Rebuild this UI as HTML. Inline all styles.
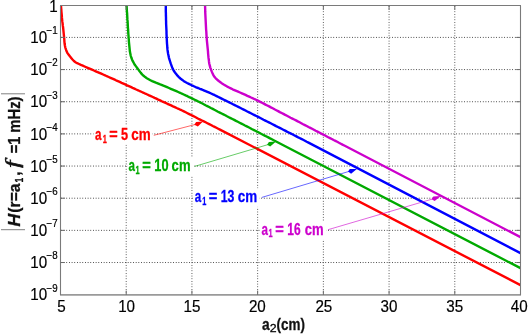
<!DOCTYPE html>
<html><head><meta charset="utf-8"><title>plot</title>
<style>
html,body{margin:0;padding:0;background:#fff;}
svg{display:block;will-change:transform;}
text{font-family:"Liberation Sans",sans-serif;}
.t{font-size:16.7px;fill:#000;}
.e{font-size:10.3px;fill:#000;}
.b{font-weight:bold;}
</style></head><body>
<svg width="529" height="335" viewBox="0 0 529 335">
<rect width="529" height="335" fill="#fff"/>
<g fill="none" stroke-width="1" stroke-dasharray="0.8 1.87">
<line x1="61.0" x2="520.5" y1="37.41" y2="37.41" stroke="#2a2a2a"/>
<line x1="61.0" x2="520.5" y1="69.57" y2="69.57" stroke="#2a2a2a"/>
<line x1="61.0" x2="520.5" y1="101.73" y2="101.73" stroke="#2a2a2a"/>
<line x1="61.0" x2="520.5" y1="133.89" y2="133.89" stroke="#2a2a2a"/>
<line x1="61.0" x2="520.5" y1="166.05" y2="166.05" stroke="#2a2a2a"/>
<line x1="61.0" x2="520.5" y1="198.21" y2="198.21" stroke="#2a2a2a"/>
<line x1="61.0" x2="520.5" y1="230.37" y2="230.37" stroke="#2a2a2a"/>
<line x1="61.0" x2="520.5" y1="262.53" y2="262.53" stroke="#2a2a2a"/>
<line y1="6.0" y2="294.69" x1="126.21" x2="126.21" stroke="#3a3a3a"/>
<line y1="6.0" y2="294.69" x1="191.93" x2="191.93" stroke="#3a3a3a"/>
<line y1="6.0" y2="294.69" x1="257.64" x2="257.64" stroke="#3a3a3a"/>
<line y1="6.0" y2="294.69" x1="323.36" x2="323.36" stroke="#3a3a3a"/>
<line y1="6.0" y2="294.69" x1="389.07" x2="389.07" stroke="#3a3a3a"/>
<line y1="6.0" y2="294.69" x1="454.79" x2="454.79" stroke="#3a3a3a"/>
</g>
<defs><clipPath id="ax"><rect x="60.5" y="5.0" width="460.0" height="289.9"/></clipPath></defs>
<g fill="none" stroke-width="2.4" stroke-linejoin="round" stroke-linecap="butt" clip-path="url(#ax)">
<path d="M61.0,5.3 L61.1,7.3 L61.3,9.3 L61.4,11.3 L61.6,13.4 L61.8,15.4 L61.9,17.4 L62.1,19.4 L62.3,21.4 L62.6,23.4 L62.8,25.4 L63.1,27.4 L63.3,29.4 L63.5,31.4 L63.7,33.4 L63.9,35.4 L64.1,37.4 L64.3,39.5 L64.4,41.5 L64.6,43.5 L64.9,45.5 L65.3,47.5 L65.9,49.4 L66.6,51.3 L67.5,53.1 L68.7,54.7 L69.9,56.3 L71.2,57.9 L72.5,59.5 L73.9,61.0 L75.5,62.2 L77.2,63.2 L79.0,64.0 L80.9,64.9 L82.8,65.7 L84.6,66.5 L86.5,67.3 L88.3,68.1 L90.2,68.9 L92.0,69.7 L93.9,70.5 L95.7,71.3 L97.6,72.1 L99.4,72.9 L101.3,73.7 L103.1,74.5 L105.0,75.3 L106.8,76.2 L108.7,77.0 L110.5,77.8 L112.4,78.6 L114.2,79.4 L116.0,80.3 L117.9,81.1 L119.7,81.9 L121.6,82.8 L123.4,83.6 L125.2,84.4 L127.1,85.3 L128.9,86.1 L130.7,86.9 L132.6,87.8 L134.4,88.6 L136.2,89.5 L138.1,90.3 L139.9,91.2 L141.8,92.0 L143.6,92.8 L145.4,93.7 L147.3,94.5 L149.1,95.4 L150.9,96.2 L152.8,97.0 L154.6,97.9 L156.4,98.7 L158.3,99.6 L160.1,100.4 L161.9,101.3 L163.8,102.1 L165.6,102.9 L167.4,103.8 L169.3,104.6 L171.1,105.4 L173.0,106.3 L174.8,107.1 L176.6,108.0 L178.5,108.8 L180.3,109.7 L182.1,110.5 L183.9,111.4 L185.7,112.3 L187.5,113.2 L189.3,114.1 L191.1,115.0 L192.9,115.9 L194.7,116.8 L196.5,117.7 L198.3,118.7 L200.1,119.6 L201.9,120.5 L203.8,121.4 L205.6,122.3 L207.4,123.2 L209.2,124.1 L211.0,125.0 L212.8,126.0 L214.6,126.9 L216.4,127.8 L218.2,128.7 L220.0,129.6 L520.5,285.1" stroke="#ff0000"/>
<path d="M126.6,5.3 L126.7,7.3 L126.8,9.3 L126.9,11.3 L127.1,13.4 L127.2,15.4 L127.3,17.4 L127.4,19.4 L127.6,21.4 L127.7,23.4 L127.8,25.4 L127.9,27.5 L128.1,29.5 L128.2,31.5 L128.3,33.5 L128.5,35.5 L128.6,37.5 L128.8,39.5 L128.9,41.6 L129.1,43.6 L129.3,45.6 L129.5,47.6 L129.7,49.6 L129.9,51.6 L130.3,53.6 L130.7,55.6 L131.3,57.5 L132.0,59.4 L132.8,61.2 L133.8,63.0 L134.8,64.8 L136.0,66.4 L137.2,68.0 L138.4,69.6 L139.6,71.3 L140.8,72.9 L142.1,74.4 L143.6,75.8 L145.2,77.1 L146.8,78.2 L148.6,79.2 L150.4,80.2 L152.2,81.1 L154.0,81.9 L155.9,82.7 L157.7,83.4 L159.6,84.2 L161.5,84.9 L163.4,85.7 L165.2,86.4 L167.1,87.2 L169.0,88.0 L170.8,88.8 L172.7,89.6 L174.5,90.4 L176.4,91.2 L178.2,92.0 L180.1,92.8 L181.9,93.7 L183.7,94.5 L185.6,95.4 L187.4,96.2 L189.2,97.1 L191.0,97.9 L192.9,98.8 L194.7,99.7 L196.5,100.6 L198.3,101.5 L200.1,102.4 L201.9,103.3 L203.7,104.2 L205.5,105.2 L207.3,106.1 L209.1,107.0 L210.9,108.0 L212.7,108.9 L214.4,109.8 L216.2,110.7 L218.0,111.7 L219.8,112.6 L221.6,113.5 L223.4,114.4 L225.2,115.3 L227.0,116.3 L228.8,117.2 L230.6,118.1 L232.4,119.0 L234.2,119.9 L236.0,120.9 L237.8,121.8 L239.6,122.7 L241.4,123.6 L243.2,124.5 L245.0,125.5 L246.8,126.4 L248.6,127.3 L250.4,128.2 L252.2,129.2 L254.0,130.1 L255.8,131.0 L257.5,131.9 L259.3,132.8 L261.1,133.8 L262.9,134.7 L264.7,135.6 L266.5,136.5 L268.3,137.4 L270.1,138.4 L271.9,139.3 L273.7,140.2 L520.5,268.2" stroke="#00aa00"/>
<path d="M165.8,5.3 L165.8,7.3 L165.8,9.3 L165.8,11.4 L165.9,13.4 L165.9,15.4 L166.0,17.4 L166.0,19.4 L166.1,21.5 L166.1,23.5 L166.2,25.5 L166.3,27.5 L166.4,29.5 L166.5,31.5 L166.5,33.5 L166.6,35.6 L166.7,37.6 L166.8,39.6 L166.9,41.6 L167.0,43.6 L167.2,45.6 L167.3,47.7 L167.5,49.7 L167.8,51.7 L168.1,53.7 L168.5,55.6 L168.9,57.6 L169.5,59.6 L170.1,61.5 L170.7,63.4 L171.4,65.3 L172.1,67.2 L172.9,69.1 L173.8,70.8 L175.0,72.5 L176.2,74.1 L177.5,75.7 L178.9,77.1 L180.4,78.5 L182.0,79.7 L183.6,80.9 L185.3,82.0 L187.1,83.0 L188.9,83.9 L190.7,84.8 L192.5,85.7 L194.4,86.5 L196.2,87.3 L198.1,88.0 L200.0,88.8 L201.9,89.5 L203.7,90.3 L205.6,91.1 L207.4,91.9 L209.3,92.7 L211.1,93.5 L213.0,94.4 L214.8,95.2 L216.6,96.1 L218.4,97.0 L220.2,97.9 L222.1,98.8 L223.9,99.7 L225.7,100.6 L227.5,101.5 L229.3,102.4 L231.1,103.3 L232.9,104.2 L234.7,105.1 L236.5,106.0 L238.3,106.9 L240.1,107.8 L241.9,108.7 L243.7,109.6 L245.5,110.5 L247.3,111.5 L249.1,112.4 L250.9,113.3 L252.7,114.2 L254.5,115.1 L256.3,116.0 L258.1,116.9 L259.9,117.8 L261.7,118.7 L263.5,119.7 L265.3,120.6 L267.1,121.5 L268.9,122.4 L270.7,123.3 L272.5,124.2 L274.3,125.1 L276.1,126.1 L277.9,127.0 L279.7,127.9 L281.5,128.8 L283.3,129.7 L285.1,130.6 L286.9,131.6 L288.7,132.5 L290.5,133.4 L292.3,134.3 L294.1,135.2 L295.9,136.1 L297.7,137.1 L299.5,138.0 L301.3,138.9 L303.1,139.8 L304.9,140.7 L306.7,141.7 L308.5,142.6 L520.5,253.2" stroke="#0000ff"/>
<path d="M205.1,5.3 L205.1,7.3 L205.2,9.3 L205.2,11.4 L205.3,13.4 L205.4,15.4 L205.5,17.4 L205.6,19.4 L205.7,21.4 L205.8,23.5 L205.9,25.5 L206.0,27.5 L206.1,29.5 L206.3,31.5 L206.4,33.5 L206.5,35.5 L206.7,37.6 L206.8,39.6 L207.0,41.6 L207.2,43.6 L207.4,45.6 L207.6,47.6 L207.8,49.6 L208.0,51.6 L208.1,53.6 L208.3,55.6 L208.5,57.7 L208.8,59.7 L209.0,61.7 L209.3,63.7 L209.8,65.6 L210.3,67.6 L211.0,69.5 L211.7,71.4 L212.5,73.3 L213.4,75.1 L214.4,76.8 L215.7,78.3 L217.2,79.7 L218.8,81.0 L220.4,82.2 L222.0,83.4 L223.7,84.5 L225.4,85.5 L227.2,86.6 L229.0,87.5 L230.8,88.4 L232.6,89.3 L234.4,90.1 L236.3,90.9 L238.1,91.7 L240.0,92.5 L241.9,93.3 L243.7,94.1 L245.5,94.9 L247.4,95.8 L249.2,96.6 L251.1,97.5 L252.9,98.3 L254.7,99.2 L256.5,100.0 L258.3,100.9 L260.2,101.8 L262.0,102.7 L263.8,103.6 L265.5,104.6 L267.3,105.5 L269.1,106.4 L270.9,107.4 L272.7,108.3 L274.5,109.3 L276.3,110.2 L278.1,111.1 L279.8,112.1 L281.6,113.0 L283.4,113.9 L285.2,114.9 L287.0,115.8 L288.8,116.7 L290.6,117.7 L292.4,118.6 L294.2,119.5 L296.0,120.4 L297.8,121.4 L299.6,122.3 L301.3,123.2 L303.1,124.2 L304.9,125.1 L306.7,126.0 L308.5,127.0 L310.3,127.9 L312.1,128.8 L313.9,129.7 L315.7,130.7 L317.5,131.6 L319.3,132.5 L321.1,133.5 L322.8,134.4 L324.6,135.3 L326.4,136.2 L328.2,137.2 L330.0,138.1 L331.8,139.0 L333.6,140.0 L335.4,140.9 L337.2,141.8 L339.0,142.8 L340.8,143.7 L342.5,144.6 L344.3,145.5 L520.5,237.2" stroke="#cc00cc"/>
</g>
<g fill="none" stroke="#7a7a7a">
<line x1="60.0" x2="521.0" y1="5.5" y2="5.5" stroke-width="1.1"/>
<line x1="60.0" x2="521.0" y1="294.9" y2="294.9" stroke-width="1.6" stroke="#9a9a9a"/>
<line x1="60.5" x2="60.5" y1="5.5" y2="294.9" stroke-width="1.1"/>
<line x1="520.5" x2="520.5" y1="5.5" y2="294.9" stroke-width="1.1"/>
</g>
<g fill="none" stroke="#6a6a6a" stroke-width="1">
<line x1="60.5" x2="64.8" y1="37.41" y2="37.41"/><line x1="516.2" x2="520.5" y1="37.41" y2="37.41"/>
<line x1="60.5" x2="64.8" y1="69.57" y2="69.57"/><line x1="516.2" x2="520.5" y1="69.57" y2="69.57"/>
<line x1="60.5" x2="64.8" y1="101.73" y2="101.73"/><line x1="516.2" x2="520.5" y1="101.73" y2="101.73"/>
<line x1="60.5" x2="64.8" y1="133.89" y2="133.89"/><line x1="516.2" x2="520.5" y1="133.89" y2="133.89"/>
<line x1="60.5" x2="64.8" y1="166.05" y2="166.05"/><line x1="516.2" x2="520.5" y1="166.05" y2="166.05"/>
<line x1="60.5" x2="64.8" y1="198.21" y2="198.21"/><line x1="516.2" x2="520.5" y1="198.21" y2="198.21"/>
<line x1="60.5" x2="64.8" y1="230.37" y2="230.37"/><line x1="516.2" x2="520.5" y1="230.37" y2="230.37"/>
<line x1="60.5" x2="64.8" y1="262.53" y2="262.53"/><line x1="516.2" x2="520.5" y1="262.53" y2="262.53"/>
<line y1="294.9" y2="290.59999999999997" x1="126.21" x2="126.21"/><line y1="5.5" y2="9.8" x1="126.21" x2="126.21"/>
<line y1="294.9" y2="290.59999999999997" x1="191.93" x2="191.93"/><line y1="5.5" y2="9.8" x1="191.93" x2="191.93"/>
<line y1="294.9" y2="290.59999999999997" x1="257.64" x2="257.64"/><line y1="5.5" y2="9.8" x1="257.64" x2="257.64"/>
<line y1="294.9" y2="290.59999999999997" x1="323.36" x2="323.36"/><line y1="5.5" y2="9.8" x1="323.36" x2="323.36"/>
<line y1="294.9" y2="290.59999999999997" x1="389.07" x2="389.07"/><line y1="5.5" y2="9.8" x1="389.07" x2="389.07"/>
<line y1="294.9" y2="290.59999999999997" x1="454.79" x2="454.79"/><line y1="5.5" y2="9.8" x1="454.79" x2="454.79"/>
</g>
<g class="t" stroke="#000" stroke-width="0.2">
<text transform="translate(57.8,11.55) scale(0.91,1)" text-anchor="end">1</text>
<text transform="translate(47.2,43.11) scale(0.91,1)" text-anchor="end">10</text><text class="e" transform="translate(46.6,34.31) scale(0.95,1)">−1</text>
<text transform="translate(47.2,75.27) scale(0.91,1)" text-anchor="end">10</text><text class="e" transform="translate(46.6,66.47) scale(0.95,1)">−2</text>
<text transform="translate(47.2,107.43) scale(0.91,1)" text-anchor="end">10</text><text class="e" transform="translate(46.6,98.63) scale(0.95,1)">−3</text>
<text transform="translate(47.2,139.59) scale(0.91,1)" text-anchor="end">10</text><text class="e" transform="translate(46.6,130.79) scale(0.95,1)">−4</text>
<text transform="translate(47.2,171.75) scale(0.91,1)" text-anchor="end">10</text><text class="e" transform="translate(46.6,162.95) scale(0.95,1)">−5</text>
<text transform="translate(47.2,203.91) scale(0.91,1)" text-anchor="end">10</text><text class="e" transform="translate(46.6,195.11) scale(0.95,1)">−6</text>
<text transform="translate(47.2,236.07) scale(0.91,1)" text-anchor="end">10</text><text class="e" transform="translate(46.6,227.27) scale(0.95,1)">−7</text>
<text transform="translate(47.2,268.23) scale(0.91,1)" text-anchor="end">10</text><text class="e" transform="translate(46.6,259.43) scale(0.95,1)">−8</text>
<text transform="translate(47.2,300.39) scale(0.91,1)" text-anchor="end">10</text><text class="e" transform="translate(46.6,291.59) scale(0.95,1)">−9</text>
</g>
<g class="t" text-anchor="middle" stroke="#000" stroke-width="0.2">
<text transform="translate(61.50,312.2) scale(0.91,1)">5</text>
<text transform="translate(126.61,312.2) scale(0.91,1)">10</text>
<text transform="translate(191.93,312.2) scale(0.91,1)">15</text>
<text transform="translate(257.34,312.2) scale(0.91,1)">20</text>
<text transform="translate(323.86,312.2) scale(0.91,1)">25</text>
<text transform="translate(389.07,312.2) scale(0.91,1)">30</text>
<text transform="translate(454.79,312.2) scale(0.91,1)">35</text>
<text transform="translate(519.30,312.2) scale(0.91,1)">40</text>
</g>
<rect x="93.5" y="126.10000000000001" width="59.0" height="18.6" fill="#fff"/>
<rect x="127.5" y="157.6" width="65.5" height="18.6" fill="#fff"/>
<rect x="193.5" y="188.29999999999998" width="66.0" height="18.6" fill="#fff"/>
<rect x="260.0" y="221.0" width="66.0" height="18.6" fill="#fff"/>
<text transform="translate(19.9,226.47) rotate(-90) scale(1.0241,1)" style="font-family:'Liberation Sans',sans-serif;font-size:17.1px;font-weight:bold;font-style:italic" fill="#111" stroke="#111" stroke-width="0.3">H</text>
<text transform="translate(19.9,212.64) rotate(-90) scale(0.9150,1)" style="font-family:'Liberation Sans',sans-serif;font-size:17.1px;font-weight:bold;font-style:normal" fill="#111" stroke="#111" stroke-width="0.3">(r=a</text>
<text transform="translate(22.9,182.55) rotate(-90) scale(0.7399,1)" style="font-family:'Liberation Sans',sans-serif;font-size:11.5px;font-weight:bold;font-style:normal" fill="#111" stroke="#111" stroke-width="0.3">1</text>
<text transform="translate(19.9,175.68) rotate(-90) scale(0.9200,1)" style="font-family:'Liberation Sans',sans-serif;font-size:17.1px;font-weight:bold;font-style:normal" fill="#111" stroke="#111" stroke-width="0.3">,</text>
<text transform="translate(19.3,167.64) rotate(-90) scale(1.3427,1)" style="font-family:'Liberation Serif',serif;font-size:19.0px;font-weight:normal;font-style:italic" fill="#111" stroke="#111" stroke-width="0.6">f</text>
<text transform="translate(19.9,153.22) rotate(-90) scale(0.8527,1)" style="font-family:'Liberation Sans',sans-serif;font-size:17.1px;font-weight:bold;font-style:normal" fill="#111" stroke="#111" stroke-width="0.3">=1</text>
<text transform="translate(19.9,132.68) rotate(-90) scale(0.8657,1)" style="font-family:'Liberation Sans',sans-serif;font-size:17.1px;font-weight:bold;font-style:normal" fill="#111" stroke="#111" stroke-width="0.3">mHz)</text>
<text transform="translate(261.94,329.9) scale(0.8035,1)" style="font-family:'Liberation Sans',sans-serif;font-size:17.1px;font-weight:bold;font-style:normal" fill="#111" stroke="#111" stroke-width="0.3">a</text>
<text transform="translate(269.70,332.0) scale(1.0721,1)" style="font-family:'Liberation Sans',sans-serif;font-size:11.5px;font-weight:normal;font-style:normal" fill="#000" stroke="#000" stroke-width="0.25">2</text>
<text transform="translate(276.56,329.9) scale(0.7863,1)" style="font-family:'Liberation Sans',sans-serif;font-size:17.1px;font-weight:bold;font-style:normal" fill="#111" stroke="#111" stroke-width="0.3">(cm)</text>
<text transform="translate(94.93,139.9) scale(0.6800,1)" style="font-family:'Liberation Sans',sans-serif;font-size:17.1px;font-weight:bold;font-style:normal" fill="#ff0000" stroke="#ff0000" stroke-width="0.3">a</text>
<text transform="translate(102.67,142.5) scale(0.6800,1)" style="font-family:'Liberation Sans',sans-serif;font-size:10.8px;font-weight:bold;font-style:normal" fill="#ff0000" stroke="#ff0000" stroke-width="0.3">1</text>
<text transform="translate(109.15,139.9) scale(0.8443,1)" style="font-family:'Liberation Sans',sans-serif;font-size:17.1px;font-weight:bold;font-style:normal" fill="#ff0000" stroke="#ff0000" stroke-width="0.3">=</text>
<text transform="translate(120.94,139.9) scale(0.7417,1)" style="font-family:'Liberation Sans',sans-serif;font-size:17.1px;font-weight:bold;font-style:normal" fill="#ff0000" stroke="#ff0000" stroke-width="0.3">5</text>
<text transform="translate(131.28,139.9) scale(0.7861,1)" style="font-family:'Liberation Sans',sans-serif;font-size:17.1px;font-weight:bold;font-style:normal" fill="#ff0000" stroke="#ff0000" stroke-width="0.3">cm</text>
<text transform="translate(128.40,171.4) scale(0.6800,1)" style="font-family:'Liberation Sans',sans-serif;font-size:17.1px;font-weight:bold;font-style:normal" fill="#00aa00" stroke="#00aa00" stroke-width="0.3">a</text>
<text transform="translate(135.55,174.0) scale(0.6800,1)" style="font-family:'Liberation Sans',sans-serif;font-size:10.8px;font-weight:bold;font-style:normal" fill="#00aa00" stroke="#00aa00" stroke-width="0.3">1</text>
<text transform="translate(142.20,171.4) scale(0.8600,1)" style="font-family:'Liberation Sans',sans-serif;font-size:17.1px;font-weight:bold;font-style:normal" fill="#00aa00" stroke="#00aa00" stroke-width="0.3">=</text>
<text transform="translate(154.35,171.4) scale(0.7492,1)" style="font-family:'Liberation Sans',sans-serif;font-size:17.1px;font-weight:bold;font-style:normal" fill="#00aa00" stroke="#00aa00" stroke-width="0.3">10</text>
<text transform="translate(171.62,171.4) scale(0.7656,1)" style="font-family:'Liberation Sans',sans-serif;font-size:17.1px;font-weight:bold;font-style:normal" fill="#00aa00" stroke="#00aa00" stroke-width="0.3">cm</text>
<text transform="translate(194.80,202.1) scale(0.6800,1)" style="font-family:'Liberation Sans',sans-serif;font-size:17.1px;font-weight:bold;font-style:normal" fill="#0000ff" stroke="#0000ff" stroke-width="0.3">a</text>
<text transform="translate(202.15,204.7) scale(0.6800,1)" style="font-family:'Liberation Sans',sans-serif;font-size:10.8px;font-weight:bold;font-style:normal" fill="#0000ff" stroke="#0000ff" stroke-width="0.3">1</text>
<text transform="translate(208.78,202.1) scale(0.8600,1)" style="font-family:'Liberation Sans',sans-serif;font-size:17.1px;font-weight:bold;font-style:normal" fill="#0000ff" stroke="#0000ff" stroke-width="0.3">=</text>
<text transform="translate(220.67,202.1) scale(0.7189,1)" style="font-family:'Liberation Sans',sans-serif;font-size:17.1px;font-weight:bold;font-style:normal" fill="#0000ff" stroke="#0000ff" stroke-width="0.3">13</text>
<text transform="translate(237.85,202.1) scale(0.7857,1)" style="font-family:'Liberation Sans',sans-serif;font-size:17.1px;font-weight:bold;font-style:normal" fill="#0000ff" stroke="#0000ff" stroke-width="0.3">cm</text>
<text transform="translate(261.47,234.8) scale(0.6800,1)" style="font-family:'Liberation Sans',sans-serif;font-size:17.1px;font-weight:bold;font-style:normal" fill="#cc00cc" stroke="#cc00cc" stroke-width="0.3">a</text>
<text transform="translate(268.38,237.4) scale(0.6800,1)" style="font-family:'Liberation Sans',sans-serif;font-size:10.8px;font-weight:bold;font-style:normal" fill="#cc00cc" stroke="#cc00cc" stroke-width="0.3">1</text>
<text transform="translate(275.20,234.8) scale(0.8600,1)" style="font-family:'Liberation Sans',sans-serif;font-size:17.1px;font-weight:bold;font-style:normal" fill="#cc00cc" stroke="#cc00cc" stroke-width="0.3">=</text>
<text transform="translate(287.36,234.8) scale(0.7002,1)" style="font-family:'Liberation Sans',sans-serif;font-size:17.1px;font-weight:bold;font-style:normal" fill="#cc00cc" stroke="#cc00cc" stroke-width="0.3">16</text>
<text transform="translate(304.63,234.8) scale(0.7656,1)" style="font-family:'Liberation Sans',sans-serif;font-size:17.1px;font-weight:bold;font-style:normal" fill="#cc00cc" stroke="#cc00cc" stroke-width="0.3">cm</text>
<g stroke="#808080" stroke-width="1" fill="none"><line x1="1.0" x2="25.0" y1="93.8" y2="93.8"/><line x1="1.0" x2="25.0" y1="229.7" y2="229.7"/></g>
<line x1="153.8" y1="135.3" x2="196.0" y2="124.3" stroke="#ff0000" stroke-width="0.8" opacity="0.75"/>
<polygon points="194.3,124.8 196.1,122.1 203,121.6 197.9,126.6" fill="#ff0000"/>
<line x1="194.6" y1="166.4" x2="268.0" y2="144.6" stroke="#00aa00" stroke-width="0.8" opacity="0.75"/>
<polygon points="267.1,144.8 268.9,142.1 276,141.6 270.2,146.6" fill="#00aa00"/>
<line x1="261.9" y1="197.4" x2="349.0" y2="171.4" stroke="#0000ff" stroke-width="0.8" opacity="0.75"/>
<polygon points="348,171.6 349.8,169.1 356.9,168.9 351.1,173.8" fill="#0000ff"/>
<line x1="328.0" y1="229.7" x2="432.5" y2="199.0" stroke="#cc00cc" stroke-width="0.8" opacity="0.75"/>
<polygon points="431.6,199.2 433.3,196.6 441,196.1 434.7,201" fill="#cc00cc"/>
</svg>
</body></html>
